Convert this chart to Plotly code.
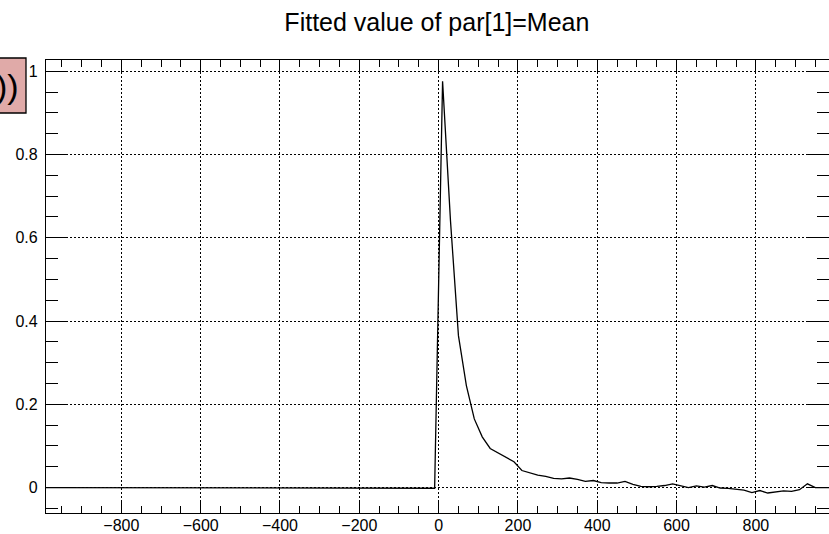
import plotly.graph_objects as go

# bin centres (step 20) and fitted mean per bin
x_vals = [-990, -90, -70, -50, -30, -10,
          10, 30, 50, 70, 90, 110, 130, 150, 170, 190,
          210, 230, 250, 270, 290, 310, 330, 350, 370, 390,
          410, 430, 450, 470, 490, 510, 530, 550, 570, 590,
          610, 630, 650, 670, 690, 710, 730, 750, 770, 790,
          810, 830, 850, 870, 890, 910, 930, 950, 970, 990]
y_vals = [0.0, 0.0, 0.0, -0.001, -0.0015, -0.0015,
          0.976, 0.64, 0.365, 0.245, 0.165, 0.122, 0.094, 0.083, 0.072, 0.062,
          0.041, 0.035, 0.030, 0.027, 0.022, 0.021, 0.023, 0.020, 0.015, 0.017,
          0.012, 0.011, 0.011, 0.015, 0.008, 0.003, 0.002, 0.003, 0.005, 0.009,
          0.004, 0.000, 0.004, 0.001, 0.005, -0.001, -0.002, -0.004, -0.006, -0.012,
          -0.007, -0.013, -0.010, -0.008, -0.009, -0.005, 0.009, 0.0, 0.0, 0.0]

title = "Fitted value of par[1]=Mean"
box_text = "))"

W, H = 829, 534
ML, MR, MT, MB = 46, 0, 60, 21
plot_w = W - ML - MR
plot_h = H - MT - MB
FONT = "Liberation Sans, Arial, sans-serif"


def px_to_paper_x(px):
    return (px - ML) / plot_w


def py_to_paper_y(py):
    return (H - MB - py) / plot_h


fig = go.Figure()
fig.add_trace(go.Scatter(x=x_vals, y=y_vals, mode="lines",
                         line=dict(color="black", width=1.3),
                         showlegend=False, hoverinfo="skip"))

axis_common = dict(
    showline=True, linecolor="black", linewidth=1.3, mirror="ticks",
    ticks="inside", tickcolor="black", tickwidth=1,
    showgrid=True, gridcolor="black", gridwidth=1.2, griddash="1.5px,2.5px",
    zeroline=False, automargin=False,
    tickfont=dict(family=FONT, size=16, color="black"),
)

fig.update_xaxes(range=[-990, 984.4], dtick=200, tick0=0, ticklen=13, ticklabelstandoff=-2,
                 minor=dict(dtick=50, ticklen=7, ticks="inside", tickcolor="black", showgrid=False),
                 **axis_common)
fig.update_yaxes(range=[-0.061, 1.027], dtick=0.2, tick0=0, ticklen=22, ticklabelstandoff=4,
                 minor=dict(dtick=0.05, ticklen=12, ticks="inside", tickcolor="black", showgrid=False),
                 **axis_common)

# pave box partly outside the canvas at top-left
fig.add_shape(type="rect", xref="paper", yref="paper",
              x0=px_to_paper_x(-40), x1=px_to_paper_x(26),
              y0=py_to_paper_y(113), y1=py_to_paper_y(58),
              fillcolor="#e0aaa8", line=dict(color="black", width=1.3))
fig.add_annotation(xref="paper", yref="paper", x=px_to_paper_x(21), y=py_to_paper_y(86),
                   xanchor="right", yanchor="middle", text=box_text, showarrow=False,
                   font=dict(family=FONT, size=34, color="black"))

fig.update_layout(
    width=W, height=H,
    margin=dict(l=ML, r=MR, t=MT, b=MB),
    plot_bgcolor="white", paper_bgcolor="white",
    title=dict(text=title, x=0.527, xanchor="center", y=1 - 22 / H, yanchor="middle",
               font=dict(family=FONT, size=25, color="black")),
)

fig.write_html("out.html", config={"displayModeBar": False},
               post_script="document.body.style.margin='0';document.body.style.overflow='hidden';")
